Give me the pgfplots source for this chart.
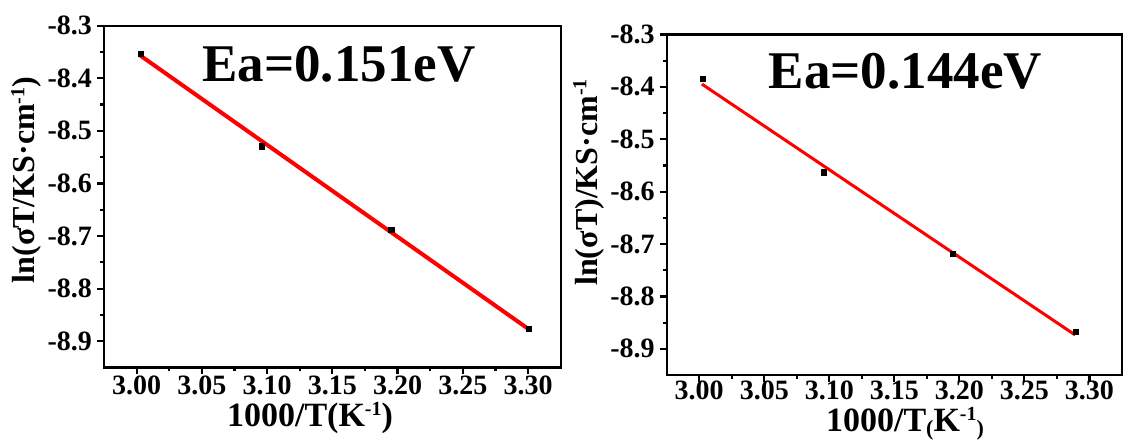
\documentclass[border=0pt]{standalone}
\usepackage{pgfplots}
\pgfplotsset{compat=1.18}
\usepackage{fontspec}
\setmainfont{Liberation Serif}
\newcommand{\mysup}[1]{\raisebox{0.33em}{\fontsize{10}{10}\selectfont #1}}
\begin{document}
\begin{tikzpicture}[x=1pt,y=1pt]
\useasboundingbox (0,0) rectangle (561.5,221);
\pgfplotsset{
  myaxis/.style={
    scale only axis,
    xmin=2.975, xmax=3.325, ymin=-8.95, ymax=-8.3,
    xtick={3.00,3.05,3.10,3.15,3.20,3.25,3.30},
    ytick={-8.9,-8.8,-8.7,-8.6,-8.5,-8.4,-8.3},
    minor x tick num=1, minor y tick num=1,
    xtick pos=bottom, ytick pos=left, tick align=outside,
    major tick length=3.5pt, minor tick length=1.8pt,
    axis line style={line width=1.2pt},
    tick style={line width=1.1pt, black},
    /pgf/number format/assume math mode=true,
    ticklabel style={font=\fontsize{14}{14}\selectfont\bfseries},
    xticklabel style={/tikz/yshift=3pt, /pgf/number format/.cd, fixed, fixed zerofill, precision=2},
    yticklabel style={/tikz/xshift=1pt, /pgf/number format/.cd, fixed, fixed zerofill, precision=1},
  }
}
\begin{axis}[myaxis, at={(52pt,37.25pt)}, anchor=south west, width=228.35pt, height=170.9pt]
\addplot[only marks, mark=square*, mark size=1.3pt, black] coordinates {
(3.0034,-8.3537) (3.0960,-8.5296) (3.1952,-8.6890) (3.3007,-8.8770)};
\addplot[red, line width=2pt] coordinates {(3.003,-8.357) (3.301,-8.878)};
\end{axis}
\begin{axis}[myaxis, at={(333.35pt,33.5pt)}, anchor=south west, width=227.6pt, height=170.25pt,
  xticklabel style={/tikz/yshift=1pt}]
\addplot[only marks, mark=square*, mark size=1.3pt, black] coordinates {
(3.0028,-8.3852) (3.0959,-8.5631) (3.1948,-8.7195) (3.2894,-8.8670)};
\addplot[red, line width=1.5pt] coordinates {(3.002,-8.3946) (3.289,-8.8735)};
\end{axis}
% labels
\node[anchor=base, rotate=90, font=\fontsize{16}{16}\selectfont\bfseries] at (17.5,131) {ln(σT/KS·cm\mysup{-1})};
\node[anchor=base, rotate=90, font=\fontsize{16}{16}\selectfont\bfseries] at (298.5,129.75) {ln(σT)/KS·cm\mysup{-1}};
\node[anchor=base, font=\fontsize{17}{17}\selectfont\bfseries] at (155,7.5) {1000/T(K\mysup{-1})};
\node[anchor=base, font=\fontsize{17}{17}\selectfont\bfseries] at (452.5,5) {1000/T\raisebox{-2pt}{\fontsize{11}{11}\selectfont(}K\mysup{-1}\raisebox{-2pt}{\fontsize{11}{11}\selectfont)}};
\node[anchor=base west, inner sep=0pt, font=\fontsize{26.5}{26.5}\selectfont\bfseries] at (100.9,180.15) {Ea=0.151eV};
\node[anchor=base west, inner sep=0pt, font=\fontsize{26.5}{26.5}\selectfont\bfseries] at (384.15,176.85) {Ea=0.144eV};
\end{tikzpicture}
\end{document}
